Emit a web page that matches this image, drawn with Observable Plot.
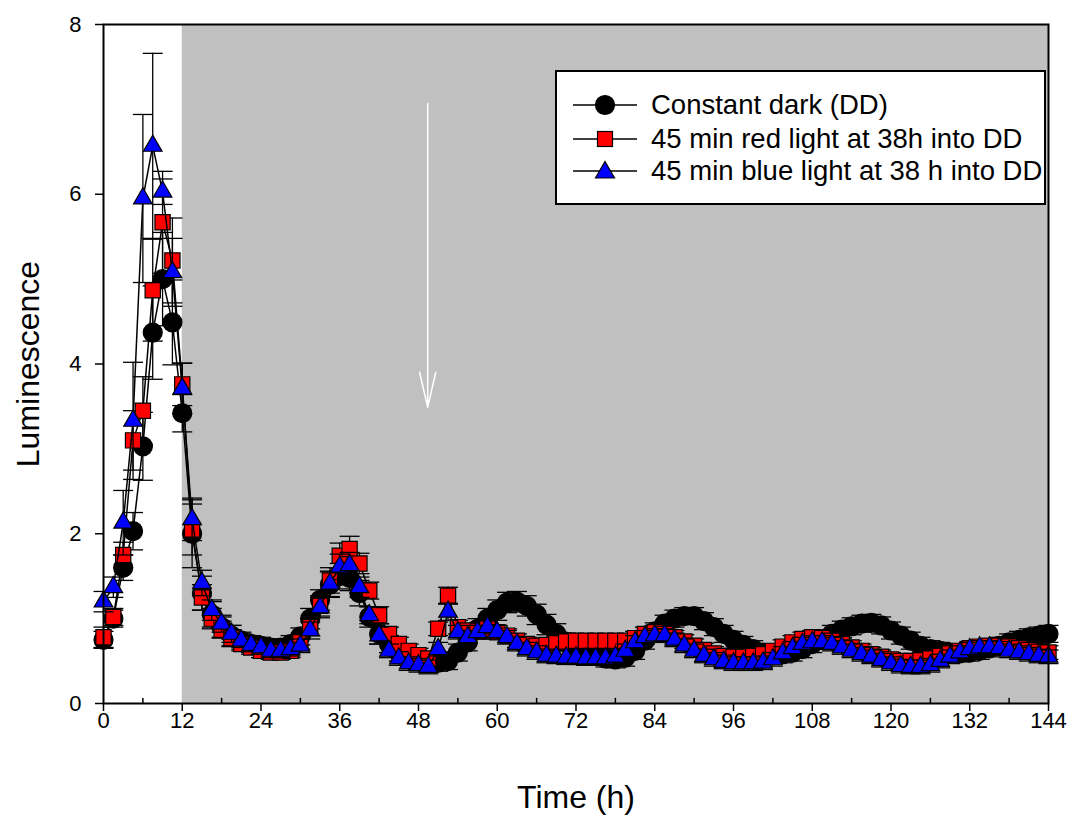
<!DOCTYPE html>
<html><head><meta charset="utf-8">
<script src="https://cdn.jsdelivr.net/npm/d3@7"></script>
<script src="https://cdn.jsdelivr.net/npm/@observablehq/plot@0.6"></script>
<style>
body{margin:0;background:#fff;font-family:Arial,"Liberation Sans",sans-serif;}
#wrap{position:relative;width:1074px;height:816px;}
#legend{position:absolute;left:555px;top:70px;width:487px;height:131px;border:2px solid #000;background:#fff;}
.row{position:absolute;left:0;height:34px;display:flex;align-items:center;font-size:27.5px;white-space:nowrap;color:#000;}
.row svg{margin-left:16px;margin-right:14px;}
</style></head><body><div id="wrap"></div>
<script>
// ---- data (time in hours, luminescence) ----
const HOURS = [
  0,1.5,3,4.5,6,7.5,9,10.5,12,13.5,
  15,16.5,18,19.5,21,22.5,24,25.5,27,28.5,
  30,31.5,33,34.5,36,37.5,39,40.5,42,43.5,
  45,46.5,48,49.5,51,52.5,54,55.5,57,58.5,
  60,61.5,63,64.5,66,67.5,69,70.5,72,73.5,
  75,76.5,78,79.5,81,82.5,84,85.5,87,88.5,
  90,91.5,93,94.5,96,97.5,99,100.5,102,103.5,
  105,106.5,108,109.5,111,112.5,114,115.5,117,118.5,
  120,121.5,123,124.5,126,127.5,129,130.5,132,133.5,
  135,136.5,138,139.5,141,142.5,144
];
const DARK = [
  0.75,1.00,1.60,2.03,3.03,4.37,5.00,4.49,3.42,2.00,
  1.30,1.05,0.90,0.80,0.74,0.70,0.68,0.66,0.66,0.70,
  0.79,1.00,1.22,1.40,1.50,1.48,1.30,1.02,0.82,0.70,
  0.60,0.55,0.50,0.48,0.48,0.50,0.60,0.72,0.88,1.00,
  1.10,1.19,1.20,1.15,1.05,0.93,0.82,0.73,0.66,0.60,
  0.56,0.53,0.52,0.54,0.62,0.74,0.85,0.94,1.00,1.03,
  1.03,0.97,0.90,0.82,0.75,0.69,0.64,0.60,0.58,0.58,
  0.60,0.64,0.70,0.76,0.82,0.87,0.91,0.94,0.95,0.92,
  0.86,0.80,0.74,0.68,0.64,0.62,0.60,0.59,0.60,0.62,
  0.65,0.68,0.72,0.75,0.78,0.80,0.82
];
const DARK_ERR = [
  0.10,0.10,0.15,0.22,0.40,0.55,0.55,0.50,0.22,0.40,
  0.20,0.15,0.12,0.12,0.10,0.10,0.10,0.10,0.10,0.10,
  0.10,0.12,0.12,0.15,0.15,0.15,0.15,0.12,0.12,0.10,
  0.10,0.10,0.10,0.10,0.10,0.10,0.10,0.10,0.12,0.12,
  0.12,0.12,0.12,0.12,0.12,0.12,0.12,0.10,0.10,0.10,
  0.10,0.10,0.10,0.10,0.10,0.10,0.10,0.10,0.10,0.10,
  0.10,0.10,0.10,0.10,0.10,0.10,0.10,0.10,0.10,0.10,
  0.10,0.10,0.10,0.10,0.10,0.10,0.10,0.10,0.10,0.10,
  0.10,0.10,0.10,0.10,0.10,0.10,0.10,0.10,0.10,0.10,
  0.10,0.10,0.10,0.10,0.10,0.10,0.10
];
const RED = [
  0.78,1.02,1.75,3.10,3.45,4.87,5.67,5.22,3.76,2.05,
  1.25,1.00,0.87,0.77,0.70,0.66,0.62,0.60,0.60,0.62,
  0.72,0.90,1.15,1.45,1.74,1.82,1.65,1.33,1.04,0.82,
  0.70,0.62,0.57,0.53,0.88,1.27,0.90,0.86,0.85,0.88,
  0.84,0.80,0.74,0.70,0.68,0.69,0.71,0.73,0.74,0.74,
  0.74,0.74,0.74,0.74,0.77,0.82,0.84,0.82,0.78,0.73,
  0.68,0.63,0.59,0.56,0.55,0.55,0.56,0.58,0.62,0.67,
  0.72,0.76,0.78,0.77,0.74,0.70,0.66,0.62,0.58,0.55,
  0.52,0.50,0.50,0.51,0.53,0.56,0.59,0.62,0.65,0.67,
  0.68,0.68,0.67,0.65,0.63,0.61,0.60
];
const RED_ERR = [
  0.12,0.10,0.15,0.35,0.40,0.60,0.60,0.50,0.25,0.30,
  0.15,0.12,0.10,0.10,0.08,0.08,0.08,0.08,0.08,0.08,
  0.08,0.10,0.12,0.15,0.15,0.15,0.12,0.10,0.10,0.08,
  0.08,0.08,0.08,0.08,0.08,0.10,0.08,0.08,0.08,0.08,
  0.08,0.08,0.08,0.08,0.08,0.08,0.08,0.08,0.08,0.08,
  0.08,0.08,0.08,0.08,0.08,0.08,0.08,0.08,0.08,0.08,
  0.08,0.08,0.08,0.08,0.08,0.08,0.08,0.08,0.08,0.08,
  0.08,0.08,0.08,0.08,0.08,0.08,0.08,0.08,0.08,0.08,
  0.08,0.08,0.08,0.08,0.08,0.08,0.08,0.08,0.08,0.08,
  0.08,0.08,0.08,0.08,0.08,0.08,0.08
];
const BLUE = [
  1.20,1.37,2.13,3.33,5.95,6.57,6.03,5.08,3.71,2.17,
  1.42,1.10,0.94,0.82,0.74,0.69,0.66,0.62,0.62,0.64,
  0.68,0.86,1.13,1.41,1.61,1.63,1.37,1.04,0.80,0.62,
  0.53,0.47,0.45,0.43,0.64,1.08,0.84,0.78,0.84,0.90,
  0.84,0.78,0.70,0.64,0.60,0.56,0.55,0.54,0.54,0.53,
  0.53,0.53,0.55,0.62,0.72,0.78,0.80,0.80,0.75,0.68,
  0.62,0.56,0.52,0.49,0.47,0.47,0.47,0.48,0.52,0.59,
  0.65,0.70,0.72,0.72,0.70,0.66,0.62,0.58,0.55,0.51,
  0.47,0.44,0.43,0.43,0.45,0.50,0.55,0.60,0.64,0.66,
  0.66,0.65,0.62,0.60,0.58,0.56,0.55
];
const BLUE_ERR = [
  0.12,0.12,0.38,0.69,0.99,1.09,0.15,0.40,0.30,0.25,
  0.15,0.12,0.10,0.10,0.08,0.08,0.08,0.08,0.08,0.08,
  0.08,0.10,0.12,0.15,0.15,0.15,0.12,0.10,0.10,0.08,
  0.08,0.08,0.08,0.08,0.08,0.10,0.08,0.08,0.08,0.08,
  0.08,0.08,0.08,0.08,0.08,0.08,0.08,0.08,0.08,0.08,
  0.08,0.08,0.08,0.08,0.08,0.08,0.08,0.08,0.08,0.08,
  0.08,0.08,0.08,0.08,0.08,0.08,0.08,0.08,0.08,0.08,
  0.08,0.08,0.08,0.08,0.08,0.08,0.08,0.08,0.08,0.08,
  0.08,0.08,0.08,0.08,0.08,0.08,0.08,0.08,0.08,0.08,
  0.08,0.08,0.08,0.08,0.08,0.08,0.08
];
const SERIES_LABELS = ["Constant dark (DD)", "45 min red light at 38h into DD", "45 min blue light at 38 h into DD"];
const X_TICKS = [0,12,24,36,48,60,72,84,96,108,120,132,144];
const X_MINOR = [6,18,30,42,54,66,78,90,102,114,126,138];
const Y_TICKS = [0,2,4,6,8];
const DARK_PERIOD = [{start: 12, end: 144}];           // constant-dark shading
const PULSE_ARROW = [{t: 49.4, from: 7.07, to: 3.49}];  // light pulse marker

// ---- build ----
const series = [
  {label: SERIES_LABELS[0], values: DARK, err: DARK_ERR, symbol: "circle", r: 9.5, fill: "#000000"},
  {label: SERIES_LABELS[1], values: RED,  err: RED_ERR,  symbol: "square", r: 8.6, fill: "#ff0000"},
  {label: SERIES_LABELS[2], values: BLUE, err: BLUE_ERR, symbol: "triangle", r: 6.9, fill: "#0000ff"}
];
const cap = {draw(ctx) { ctx.moveTo(-10, 0); ctx.lineTo(10, 0); }};
const tickUp = {draw(ctx, l) { ctx.moveTo(0, 0); ctx.lineTo(0, -l); }};

const seriesMarks = series.flatMap(s => {
  const rows = HOURS.map((t, i) => ({t, v: s.values[i], e: s.err[i]}));
  return [
    Plot.ruleX(rows, {x: "t", y1: d => d.v - d.e, y2: d => d.v + d.e, stroke: "black", strokeWidth: 1.3}),
    Plot.dot(rows, {x: "t", y: d => d.v + d.e, symbol: cap, fill: "none", stroke: "black", strokeWidth: 1.3}),
    Plot.dot(rows, {x: "t", y: d => d.v - d.e, symbol: cap, fill: "none", stroke: "black", strokeWidth: 1.3}),
    Plot.line(rows, {x: "t", y: "v", stroke: "black", strokeWidth: 1.5}),
    Plot.dot(rows, {x: "t", y: "v", symbol: s.symbol, r: s.r, fill: s.fill, stroke: "black", strokeWidth: 1.2})
  ];
});

const chart = Plot.plot({
  width: 1074, height: 816,
  marginLeft: 103, marginRight: 26, marginTop: 24, marginBottom: 113,
  style: {fontFamily: "Arial, 'Liberation Sans', sans-serif", background: "white", color: "black", overflow: "visible"},
  x: {domain: [0, 144]},
  y: {domain: [0, 8]},
  marks: [
    Plot.rect(DARK_PERIOD, {x1: "start", x2: "end", fill: "#c0c0c0"}),
    Plot.arrow(PULSE_ARROW, {x1: "t", x2: "t", y1: "from", y2: "to", stroke: "white", strokeWidth: 1.5, headLength: 36, headAngle: 26}),
    ...seriesMarks,
    Plot.frame({stroke: "black", strokeWidth: 2}),
    Plot.axisX({ticks: X_TICKS, tickSize: 8, tickPadding: 1, fontSize: 22, label: null, strokeWidth: 1.5}),
    Plot.vector(X_MINOR, {x: d => d, frameAnchor: "bottom", length: 5, rotate: 0, anchor: "start", shape: tickUp, stroke: "black", strokeWidth: 1.5}),
    Plot.axisY({ticks: Y_TICKS, tickSize: 8, tickPadding: 14, fontSize: 22, label: null, strokeWidth: 1.5}),
    Plot.text(["Time (h)"], {text: d => d, frameAnchor: "bottom", dy: 94, fontSize: 32, textAnchor: "middle", lineAnchor: "middle"}),
    Plot.text(["Luminescence"], {text: d => d, frameAnchor: "left", dx: -75, rotate: -90, fontSize: 32, textAnchor: "middle", lineAnchor: "middle"})
  ]
});
const wrap = document.getElementById("wrap");
wrap.appendChild(chart);

// ---- legend overlay ----
const legend = document.createElement("div");
legend.id = "legend";
const rowTops = [16, 50, 82];
series.forEach((s, i) => {
  const row = document.createElement("div");
  row.className = "row";
  row.style.top = rowTops[i] + "px";
  const sym = s.symbol === "circle"
    ? `<circle cx="32" cy="17" r="9.5" fill="${s.fill}" stroke="#000" stroke-width="1.2"/>`
    : s.symbol === "square"
    ? `<rect x="24.5" y="9.5" width="15" height="15" fill="${s.fill}" stroke="#000" stroke-width="1.2"/>`
    : `<path d="M32,7.5L41.5,24L22.5,24Z" fill="${s.fill}" stroke="#000" stroke-width="1.2"/>`;
  row.innerHTML = `<svg width="64" height="34"><line x1="0" x2="64" y1="17" y2="17" stroke="#000" stroke-width="1.5"/>${sym}</svg><span>${s.label}</span>`;
  legend.appendChild(row);
});
wrap.appendChild(legend);
</script>
</body></html>
